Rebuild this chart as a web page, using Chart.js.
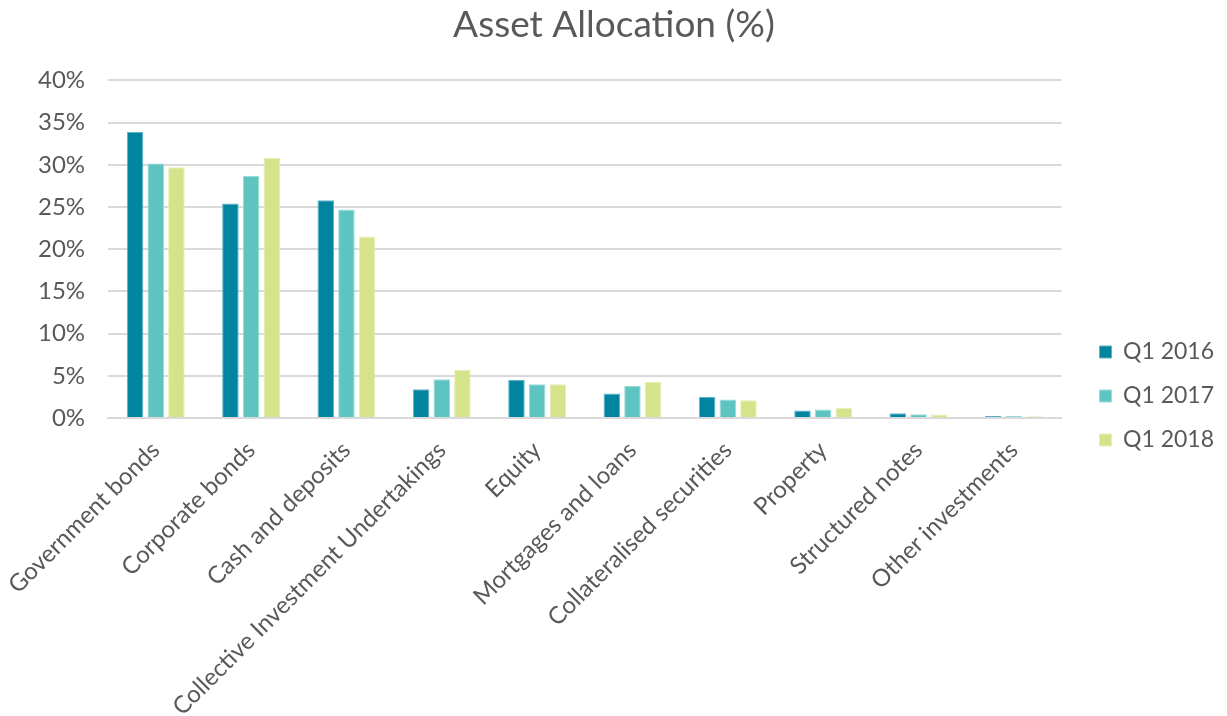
<!DOCTYPE html>
<html>
<head>
<meta charset="utf-8">
<script src="https://cdn.jsdelivr.net/npm/chart.js@4/dist/chart.umd.min.js"></script>
<style>
  html, body { margin: 0; padding: 0; background: #fff; }
  #wrap { width: 1227px; height: 716px; position: relative; }
</style>
</head>
<body>
<div id="wrap"><canvas id="chart"></canvas></div>
<script>
const categories = [
  'Government bonds', 'Corporate bonds', 'Cash and deposits',
  'Collective Investment Undertakings', 'Equity', 'Mortgages and loans',
  'Collateralised securities', 'Property', 'Structured notes', 'Other investments'
];
const q1_2016 = [33.9, 25.4, 25.8, 3.4, 4.5, 2.9, 2.5, 0.9, 0.55, 0.25];
const q1_2017 = [30.15, 28.7, 24.7, 4.6, 4.0, 3.8, 2.2, 1.0, 0.45, 0.25];
const q1_2018 = [29.7, 30.8, 21.5, 5.7, 4.0, 4.3, 2.1, 1.2, 0.4, 0.2];
const seriesNames = ['Q1 2016', 'Q1 2017', 'Q1 2018'];
const colors = ['#00849F', '#5EC4C1', '#D5E38B'];
const edgeColors = ['#5fb3c4', '#9adbd8', '#e6efb8'];

const textColor = '#595959';
Chart.defaults.font.family = 'Lato, "Open Sans", sans-serif';
Chart.defaults.color = textColor;

// nudge legend and title to sit where the original has them
const boxShift = {
  id: 'boxShift',
  afterLayout(chart) {
    const lg = chart.legend;
    lg.top += 38; lg.bottom += 38;
    lg.left += 17; lg.right += 17;
    const tb = chart.titleBlock;
    tb.left += 3; tb.right += 3;
  }
};

new Chart(document.getElementById('chart'), {
  type: 'bar',
  data: {
    labels: categories,
    datasets: [q1_2016, q1_2017, q1_2018].map((vals, i) => ({
      label: seriesNames[i],
      data: vals,
      backgroundColor: colors[i],
      borderColor: edgeColors[i],
      borderWidth: 1,
      categoryPercentage: 0.65,
      barPercentage: 0.8
    }))
  },
  plugins: [boxShift],
  options: {
    responsive: true,
    maintainAspectRatio: false,
    animation: false,
    layout: { padding: { left: 15, right: 20, top: 0, bottom: 0 } },
    plugins: {
      title: {
        display: true,
        text: 'Asset Allocation (%)',
        color: textColor,
        font: { size: 37, weight: 'normal' },
        padding: { top: 3, bottom: 33 }
      },
      legend: {
        position: 'right',
        labels: {
          boxWidth: 12,
          boxHeight: 12,
          padding: 21,
          color: textColor,
          font: { size: 23 }
        }
      },
      tooltip: { enabled: false }
    },
    scales: {
      x: {
        grid: { display: false },
        border: { color: '#d9d9d9', width: 2 },
        afterFit(scale) {
          scale.paddingLeft = 0;
          scale.height = 298;
        },
        ticks: {
          color: textColor,
          font: { size: 24 },
          maxRotation: 45,
          minRotation: 45,
          autoSkip: false,
          padding: 10
        }
      },
      y: {
        min: 0,
        max: 40,
        border: { display: false },
        grid: { color: '#d9d9d9', lineWidth: 2, drawTicks: false },
        ticks: {
          stepSize: 5,
          padding: 23,
          color: textColor,
          font: { size: 24 },
          callback: v => v + '%'
        }
      }
    }
  }
});
</script>
</body>
</html>
